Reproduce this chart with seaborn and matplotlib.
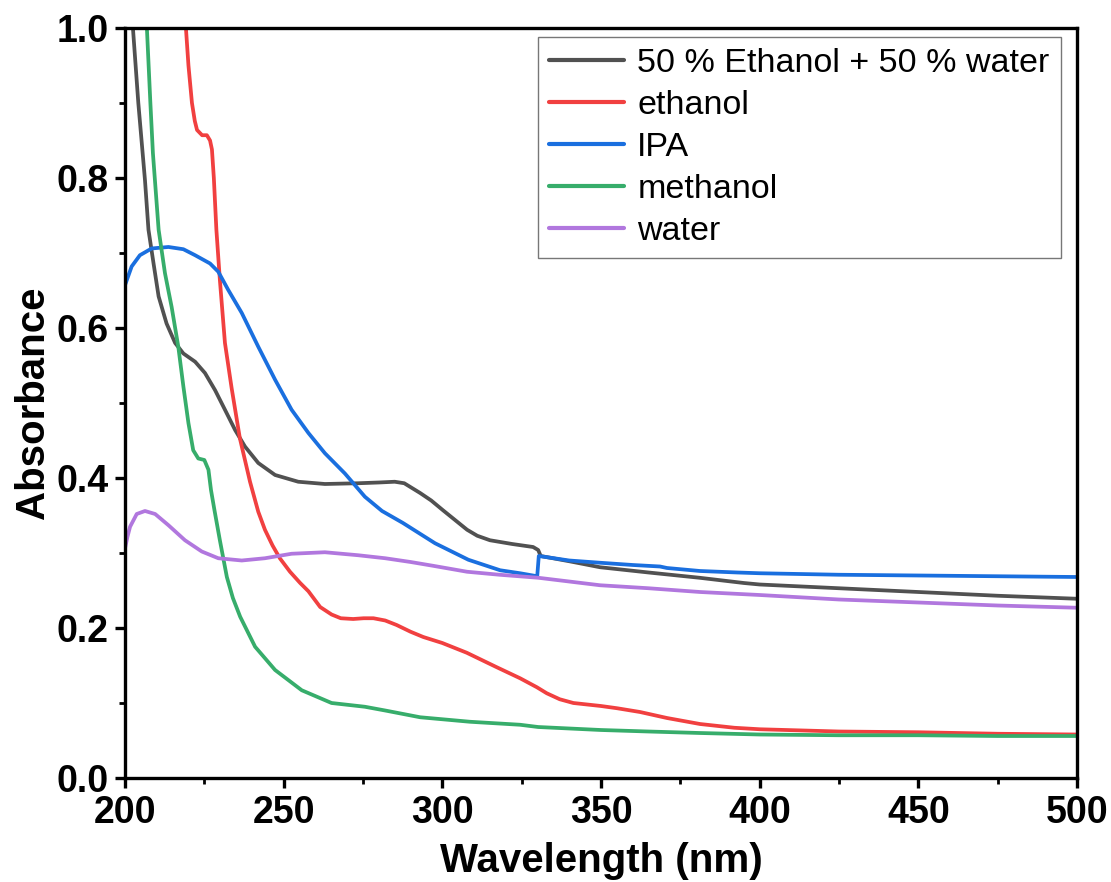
import numpy as np
import pandas as pd
import matplotlib
matplotlib.use("Agg")
import matplotlib.pyplot as plt
from matplotlib.ticker import MultipleLocator
import seaborn as sns

# ---- data ----
series_names = ["50 % Ethanol + 50 % water", "ethanol", "IPA", "methanol", "water"]
series_colors = ["#515151", "#F14040", "#1A6FDF", "#37AD6B", "#B177DE"]

wl_mix = [202.5, 204.2, 206.3, 207.4, 209, 210.6, 213.1, 215.8, 218.4, 222.1, 225.2, 228.4,
          231.5, 234.7, 237.8, 242, 247.3, 254.6, 263, 273.5, 280, 285, 288, 293, 296.5,
          300.2, 304, 307.8, 311, 315, 322, 328.6, 330.2, 331, 340, 349.7, 365, 381, 395,
          400, 425, 450, 475, 500]
abs_mix = [1.0, 0.9, 0.797, 0.731, 0.686, 0.642, 0.606, 0.58, 0.566, 0.555, 0.54, 0.517,
           0.491, 0.464, 0.442, 0.42, 0.404, 0.395, 0.392, 0.393, 0.394, 0.395, 0.393, 0.38,
           0.37, 0.357, 0.344, 0.331, 0.323, 0.317, 0.312, 0.308, 0.304, 0.296, 0.289, 0.281,
           0.274, 0.267, 0.26, 0.258, 0.253, 0.248, 0.243, 0.239]

wl_eth = [219.2, 220.0, 221.1, 222.0, 222.7, 224.3, 225.8, 226.8, 227.4, 228.0, 228.8, 229.9,
          231.5, 233.6, 236.2, 239.4, 242.0, 244.1, 246.5, 248.8, 252, 255.2, 257.8, 261.5,
          265.1, 268, 271.9, 275.2, 278.3, 282, 285.6, 290, 294, 300, 307.7, 317, 324.5,
          329.8, 332.9, 337, 341.3, 350, 355.1, 362.3, 370.8, 381.2, 392, 400, 425, 450,
          475, 500]
abs_eth = [1.0, 0.95, 0.9, 0.876, 0.864, 0.857, 0.857, 0.85, 0.838, 0.80, 0.731, 0.664,
           0.58, 0.52, 0.453, 0.395, 0.355, 0.331, 0.31, 0.293, 0.275, 0.26, 0.249, 0.228,
           0.218, 0.213, 0.212, 0.213, 0.213, 0.21, 0.204, 0.195, 0.188, 0.18, 0.167, 0.148,
           0.133, 0.121, 0.113, 0.105, 0.1, 0.096, 0.093, 0.088, 0.08, 0.072, 0.067, 0.065,
           0.062, 0.061, 0.059, 0.058]

wl_ipa = [200, 202.1, 204.7, 208.4, 213.7, 218.4, 222.1, 226.8, 229.4, 232.5, 236.8, 242,
          247.3, 252.5, 257.8, 263, 269.3, 275.6, 281, 287.6, 297.7, 308.2, 318.2, 324.5,
          329.9, 330.4, 340, 349.7, 360, 368.6, 370.8, 381.2, 393, 400, 425, 450, 475, 500]
abs_ipa = [0.657, 0.682, 0.697, 0.706, 0.708, 0.705, 0.697, 0.686, 0.675, 0.651, 0.62, 0.575,
           0.531, 0.491, 0.46, 0.433, 0.406, 0.375, 0.356, 0.34, 0.313, 0.291, 0.277, 0.273,
           0.269, 0.296, 0.29, 0.287, 0.284, 0.282, 0.28, 0.276, 0.274, 0.273, 0.271, 0.27,
           0.269, 0.268]

wl_met = [206.9, 208.0, 208.8, 210.6, 212.6, 214.7, 216.8, 218.4, 220, 221.5, 223.1, 225,
          226.3, 227.1, 228.2, 229.9, 232.1, 234, 236.3, 241, 247.3, 255.7, 265.1, 275.6,
          282, 293, 308.7, 324.5, 330.2, 350, 365, 381.2, 400, 425, 450, 475, 500]
abs_met = [1.0, 0.9, 0.833, 0.731, 0.673, 0.628, 0.575, 0.522, 0.473, 0.437, 0.426, 0.424,
           0.411, 0.384, 0.357, 0.317, 0.268, 0.24, 0.215, 0.175, 0.144, 0.117, 0.1, 0.095,
           0.09, 0.081, 0.075, 0.071, 0.068, 0.064, 0.062, 0.06, 0.058, 0.057, 0.057, 0.056,
           0.056]

wl_wat = [200, 200.8, 201.6, 203.7, 206.3, 209.5, 213.7, 218.9, 224.2, 229.4, 236.8, 244.1,
          252.5, 263, 273.5, 282, 290, 297, 307.8, 318, 330.2, 349.7, 365, 381.2, 400, 425,
          450, 475, 500]
abs_wat = [0.306, 0.322, 0.335, 0.352, 0.356, 0.352, 0.337, 0.317, 0.302, 0.293, 0.29, 0.293,
           0.299, 0.301, 0.297, 0.293, 0.288, 0.283, 0.275, 0.271, 0.267, 0.257, 0.253, 0.248,
           0.244, 0.238, 0.234, 0.23, 0.227]

x_ticks = [200, 250, 300, 350, 400, 450, 500]
y_ticks = [0.0, 0.2, 0.4, 0.6, 0.8, 1.0]

# ---- build long-form table ----
frames = []
for name, wl, ab in zip(series_names,
                        [wl_mix, wl_eth, wl_ipa, wl_met, wl_wat],
                        [abs_mix, abs_eth, abs_ipa, abs_met, abs_wat]):
    frames.append(pd.DataFrame({"Wavelength": wl, "Absorbance": ab, "Solvent": name}))
df = pd.concat(frames, ignore_index=True)

sns.set_theme(style="white")
plt.rcParams["font.family"] = ["Liberation Sans", "DejaVu Sans"]
plt.rcParams["text.color"] = "black"
plt.rcParams["axes.labelcolor"] = "black"
plt.rcParams["xtick.color"] = "black"
plt.rcParams["ytick.color"] = "black"

fig = plt.figure(figsize=(11.11, 8.82), dpi=100)
ax = fig.add_axes([0.1125, 0.1179, 0.8569, 0.8504])

sns.lineplot(data=df, x="Wavelength", y="Absorbance", hue="Solvent",
             hue_order=series_names, palette=series_colors, estimator=None,
             sort=True, linewidth=2.7, ax=ax)

ax.set_xlim(200, 500)
ax.set_ylim(0, 1.0)
ax.set_xticks(x_ticks)
ax.set_yticks(y_ticks)
ax.set_xticklabels([str(v) for v in x_ticks])
ax.set_yticklabels([f"{v:.1f}" for v in y_ticks])
ax.xaxis.set_minor_locator(MultipleLocator(25))
ax.yaxis.set_minor_locator(MultipleLocator(0.1))

for s in ax.spines.values():
    s.set_visible(True)
    s.set_color("black")
    s.set_linewidth(2.4)

ax.tick_params(which="major", direction="out", length=7, width=2.4, colors="black",
               labelsize=27, bottom=True, left=True, top=False, right=False, pad=5)
ax.tick_params(which="minor", direction="out", length=4, width=2.0, colors="black",
               bottom=True, left=True, top=False, right=False)
for lab in ax.get_xticklabels() + ax.get_yticklabels():
    lab.set_fontweight("bold")
    lab.set_color("black")

ax.set_xlabel("Wavelength (nm)", fontsize=29, fontweight="bold", labelpad=8, color="black")
ax.set_ylabel("Absorbance", fontsize=29, fontweight="bold", labelpad=3, color="black")

leg = ax.legend(loc="upper right", bbox_to_anchor=(0.983, 0.988), fontsize=24.5,
                frameon=True, fancybox=False, handlelength=2.2, handletextpad=0.4,
                borderpad=0.33, labelspacing=0.32, borderaxespad=0)
leg.get_frame().set_edgecolor("#555555")
leg.get_frame().set_linewidth(1.0)
for line in leg.get_lines():
    line.set_linewidth(3)
for t in leg.get_texts():
    t.set_color("black")

fig.savefig("out.png", dpi=100)
